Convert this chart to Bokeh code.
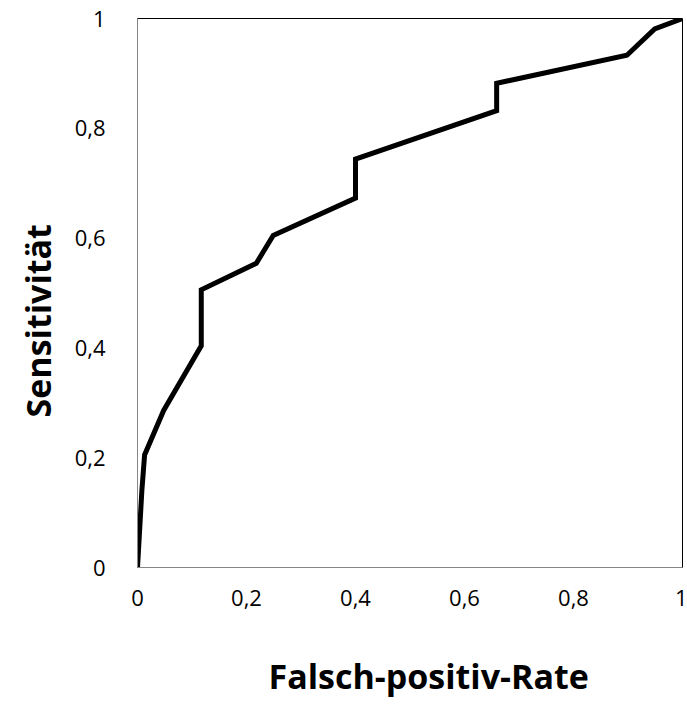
from bokeh.plotting import figure
from bokeh.models import Range1d, FixedTicker, Title
from bokeh.embed import file_html
from bokeh.resources import INLINE

fpr = [0.0, 0.008, 0.013, 0.048, 0.117, 0.117, 0.218, 0.249, 0.4, 0.4, 0.659, 0.659, 0.898, 0.949, 1.0]
tpr = [0.0, 0.14, 0.205, 0.286, 0.404, 0.506, 0.554, 0.605, 0.673, 0.744, 0.832, 0.882, 0.933, 0.981, 1.0]
ticks = [0, 0.2, 0.4, 0.6, 0.8, 1]
tick_labels = ["0", "0,2", "0,4", "0,6", "0,8", "1"]
x_title = "Falsch-positiv-Rate"
y_title = "Sensitivität"

FONT = "Open Sans"

p = figure(width=687, height=704, output_backend="svg", toolbar_location=None,
           x_range=Range1d(0, 1), y_range=Range1d(0, 1),
           min_border_left=137, min_border_right=5, min_border_top=18, min_border_bottom=137)
p.grid.visible = False
p.background_fill_color = "white"
p.border_fill_color = "white"
p.outline_line_color = "black"
p.outline_line_width = 1

overrides = {t: l for t, l in zip(ticks, tick_labels)}
for ax in (p.xaxis[0], p.yaxis[0]):
    ax.ticker = FixedTicker(ticks=ticks)
    ax.major_label_overrides = overrides
    ax.major_tick_line_color = None
    ax.minor_tick_line_color = None
    ax.axis_line_color = "#868686"
    ax.axis_line_width = 1
    ax.major_label_text_font = FONT
    ax.major_label_text_font_size = "22px"
    ax.major_label_text_color = "black"

p.xaxis.major_label_standoff = 16
p.yaxis.major_label_standoff = 26

xt = Title(text=x_title, align="left", offset=131, standoff=0, vertical_align="top",
           text_font=FONT, text_font_style="bold", text_font_size="34px", text_color="black")
try:
    xt.padding = (0, 0, 44, 0)
except Exception:
    xt.standoff = 40
    xt.vertical_align = "bottom"
yt = Title(text=y_title, align="left", offset=150, standoff=22,
           text_font=FONT, text_font_style="bold", text_font_size="34px", text_color="black")
p.add_layout(xt, "below")
p.add_layout(yt, "left")

p.line(fpr, tpr, line_color="black", line_width=5, line_join="miter")

open("out.html", "w").write(file_html(p, INLINE))
